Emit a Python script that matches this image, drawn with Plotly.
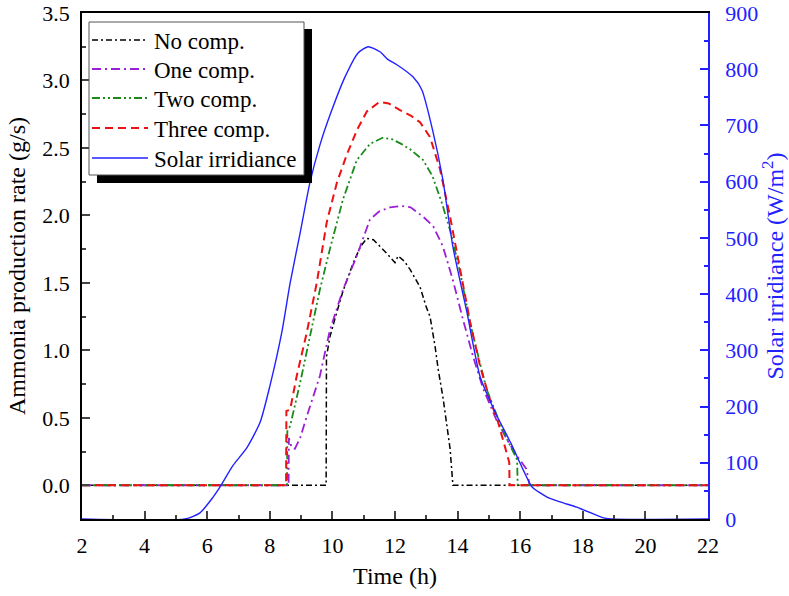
import plotly.graph_objects as go

# ---- data ----
no_x = [2, 9.80, 9.81, 9.92, 10.10, 10.34, 10.67, 10.90, 11.10, 11.31, 11.73, 12.00, 12.10, 12.30, 12.48, 12.80, 13.00, 13.12, 13.28, 13.38, 13.54, 13.76, 13.85, 22]
no_y = [0, 0, 0.95, 1.10, 1.25, 1.44, 1.65, 1.77, 1.83, 1.82, 1.72, 1.65, 1.70, 1.66, 1.60, 1.47, 1.32, 1.25, 1.03, 0.86, 0.64, 0.27, 0, 0]

one_x = [2, 8.60, 8.61, 8.70, 8.80, 8.97, 9.18, 9.60, 9.92, 10.34, 10.78, 11.20, 11.50, 11.84, 12.20, 12.50, 12.90, 13.22, 13.53, 13.85, 14.17, 14.50, 14.81, 15.25, 15.60, 15.89, 16.20, 16.30, 22]
one_y = [0, 0, 0.35, 0.28, 0.27, 0.35, 0.51, 0.81, 1.15, 1.45, 1.70, 1.97, 2.03, 2.06, 2.07, 2.06, 1.99, 1.92, 1.77, 1.52, 1.23, 0.95, 0.72, 0.48, 0.33, 0.22, 0.12, 0, 0]

two_x = [2, 8.55, 8.56, 8.65, 8.97, 9.28, 9.60, 9.92, 10.34, 10.78, 11.20, 11.60, 11.90, 12.20, 12.48, 12.90, 13.20, 13.50, 13.76, 14.08, 14.40, 14.72, 14.93, 15.25, 15.58, 15.90, 15.92, 22]
two_y = [0, 0, 0.40, 0.44, 0.76, 1.10, 1.45, 1.75, 2.12, 2.41, 2.53, 2.575, 2.565, 2.53, 2.49, 2.41, 2.29, 2.09, 1.89, 1.58, 1.20, 0.90, 0.71, 0.52, 0.34, 0.19, 0, 0]

three_x = [2, 8.52, 8.53, 8.65, 8.86, 9.18, 9.50, 9.82, 10.14, 10.46, 10.80, 11.10, 11.50, 11.80, 12.16, 12.50, 12.80, 13.12, 13.44, 13.76, 14.08, 14.40, 14.72, 15.00, 15.29, 15.51, 15.65, 15.66, 22]
three_y = [0, 0, 0.55, 0.56, 0.81, 1.13, 1.50, 1.95, 2.24, 2.45, 2.64, 2.77, 2.84, 2.83, 2.78, 2.74, 2.69, 2.58, 2.34, 1.99, 1.60, 1.21, 0.88, 0.66, 0.47, 0.29, 0.17, 0, 0]

solar_x = [2, 5.29, 5.77, 6.19, 6.41, 6.82, 7.27, 7.69, 8.00, 8.38, 8.65, 8.97, 9.28, 9.60, 9.92, 10.40, 10.82, 11.14, 11.52, 11.78, 12.06, 12.58, 12.86, 13.20, 13.53, 13.85, 14.30, 14.72, 15.20, 15.70, 16.10, 16.38, 16.86, 17.30, 17.80, 18.30, 18.60, 18.90, 22]
solar_y = [0, 0, 11, 39, 57, 95, 127, 172, 236, 331, 420, 509, 598, 665, 718, 786, 829, 840, 831, 817, 808, 786, 763, 692, 603, 484, 367, 253, 190, 135, 87, 57, 39, 30, 21, 10, 3, 0, 0]

series_names = ["No comp.", "One comp.", "Two comp.", "Three comp.", "Solar irridiance"]
y_ticks = [0, 0.5, 1, 1.5, 2, 2.5, 3, 3.5]
y_ticktext = ["0.0", "0.5", "1.0", "1.5", "2.0", "2.5", "3.0", "3.5"]

FONT = "Liberation Serif"
BLUE = "#2222ff"
styles = [
    dict(color="black", width=1.5, dash="6px,3px,2px,3px"),
    dict(color="#9b1fd6", width=1.8, dash="9px,4px,2px,4px"),
    dict(color="#1a8a1a", width=1.8, dash="8px,3px,2px,3px,2px,3px"),
    dict(color="#ee1111", width=2, dash="8px,5px"),
    dict(color=BLUE, width=1.4),
]

# plot area in page pixels
PX0, PX1, PY0, PY1 = 82, 708, 13, 519
def px(x):
    return (x - PX0) / (PX1 - PX0)
def py(y):
    return (PY1 - y) / (PY1 - PY0)

fig = go.Figure()
data = [(no_x, no_y), (one_x, one_y), (two_x, two_y), (three_x, three_y)]
for (xs, ys), nm, st in zip(data, series_names[:4], styles[:4]):
    fig.add_trace(go.Scatter(x=xs, y=ys, name=nm, mode="lines", line=st, showlegend=False))
fig.add_trace(go.Scatter(x=solar_x, y=solar_y, name=series_names[4], mode="lines", yaxis="y2",
                         line=dict(**styles[4], shape="spline", smoothing=0.6), showlegend=False))

# manual legend (box with drop shadow, long line samples)
shapes = [
    dict(type="rect", xref="paper", yref="paper", x0=px(97), x1=px(312), y0=py(183), y1=py(29),
         fillcolor="black", line=dict(width=0), layer="above"),
    dict(type="rect", xref="paper", yref="paper", x0=px(89), x1=px(304), y0=py(175), y1=py(22),
         fillcolor="white", line=dict(color="#555555", width=1), layer="above"),
]
annotations = []
rows = [40, 69, 98, 128, 158]
for r, nm, st in zip(rows, series_names, styles):
    shapes.append(dict(type="line", xref="paper", yref="paper", x0=px(92), x1=px(148), y0=py(r), y1=py(r),
                       line=dict(color=st["color"], width=st["width"], dash=st.get("dash", "solid")), layer="above"))
    annotations.append(dict(text=nm, xref="paper", yref="paper", x=px(152), y=py(r + 1),
                            xanchor="left", yanchor="middle", showarrow=False,
                            font=dict(family=FONT, size=23, color="black")))

fig.update_layout(
    width=789, height=596,
    margin=dict(l=PX0, r=789 - PX1, t=PY0, b=596 - PY1, autoexpand=False),
    paper_bgcolor="white", plot_bgcolor="white",
    font=dict(family=FONT, size=22, color="black"),
    showlegend=False,
    xaxis=dict(range=[2, 22], dtick=2, tick0=2, ticks="inside", ticklen=8, tickwidth=1.5,
               showline=True, linecolor="black", linewidth=1.5, mirror=True,
               showgrid=False, zeroline=False, automargin=False,
               minor=dict(dtick=1, ticks="inside", ticklen=4, tickwidth=1.5, showgrid=False),
               title=dict(text="Time (h)", font=dict(family=FONT, size=24), standoff=10),
               tickfont=dict(family=FONT, size=22), ticklabelstandoff=6),
    yaxis=dict(range=[-0.25, 3.5], tickvals=y_ticks, ticktext=y_ticktext,
               ticks="inside", ticklen=8, tickwidth=1.5,
               showline=True, linecolor="black", linewidth=1.5,
               showgrid=False, zeroline=False, automargin=False,
               minor=dict(tickvals=[-0.25, 0.25, 0.75, 1.25, 1.75, 2.25, 2.75, 3.25],
                          ticks="inside", ticklen=4, tickwidth=1.5, showgrid=False),
               title=dict(text="Ammonia production rate (g/s)", font=dict(family=FONT, size=24), standoff=10),
               tickfont=dict(family=FONT, size=22), ticklabelstandoff=6),
    yaxis2=dict(range=[0, 900], dtick=100, overlaying="y", side="right",
                ticks="inside", ticklen=8, tickwidth=1.5, tickcolor=BLUE,
                showline=True, linecolor=BLUE, linewidth=1.5,
                showgrid=False, zeroline=False, automargin=False,
                minor=dict(dtick=50, ticks="inside", ticklen=4, tickwidth=1.5, tickcolor=BLUE, showgrid=False),
                title=dict(text="Solar irridiance (W/m<sup>2</sup>)", font=dict(family=FONT, size=24, color=BLUE), standoff=6),
                tickfont=dict(family=FONT, size=22, color=BLUE), ticklabelstandoff=11),
    shapes=shapes,
    annotations=annotations,
)

fig.write_html("out.html", config={"displayModeBar": False},
               post_script="document.body.style.margin='0';")
